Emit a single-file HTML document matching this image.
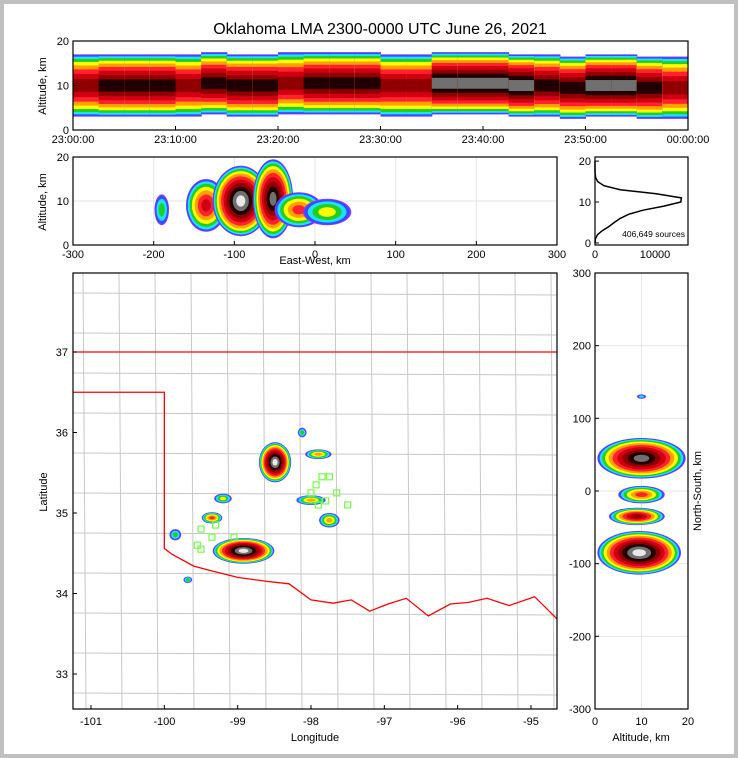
<!DOCTYPE html>
<html><head><meta charset="utf-8"><style>
body{margin:0;background:#c0c0c0;}
#wrap{position:absolute;left:4px;top:4px;width:730px;height:750px;background:#fff;}
svg{position:absolute;left:0;top:0;font-family:"Liberation Sans",sans-serif;}
</style></head><body>
<div id="wrap"></div>
<svg id="s" width="738" height="758"></svg>
<script>
const timeLabels=["23:00:00","23:10:00","23:20:00","23:30:00","23:40:00","23:50:00","00:00:00"];
const timeBinsMin=[0,2.5,5,7.5,10,12.5,15,17.5,20,22.5,25,27.5,30,32.5,35,37.5,40,42.5,45,47.5,50,52.5,55,57.5];
const timeBinCore=[8,9,9,9,8,9,9,9,8,9,9,9,8,8,10,10,10,10,9,9,10,10,9,8];
const timeBinAlt=[10,10,10,10,10,10.5,10,10,10.5,10.5,10.5,10.5,10,10,10.5,10.5,10.5,10,10,9.5,10,10,9.5,9.5];
const ewCellsKm=[-190,-135,-92,-52,-20,15];
const ewCellsAlt=[8,9,10,10.5,8,7.5];
const ewCellsLevel=[3,7,11,10,6,4];
const ewCellsW=[9,25,35,25,30,30];
const ewCellsH=[3.5,6,8,9,4,3];
const histAlt=[0,1,2,3,4,5,6,7,8,9,10,11,12,13,14,15,16,17,18,19,20];
const histCount=[0,60,400,1200,2300,3200,4200,5600,8000,11500,14300,14400,10200,4200,1500,450,100,20,5,0,0];
const mapCellLon=[-98.49,-98.92,-99.35,-99.2,-97.75,-98.0,-99.85,-99.68,-98.12,-97.9];
const mapCellLat=[35.63,34.53,34.94,35.18,34.91,35.16,34.73,34.17,36.0,35.73];
const mapCellLevel=[11,11,6,4,5,5,3,3,3,5];
const mapCellRx=[0.22,0.42,0.14,0.12,0.14,0.2,0.08,0.06,0.06,0.18];
const mapCellRy=[0.25,0.16,0.07,0.06,0.09,0.06,0.07,0.04,0.06,0.06];
const nsCellKm=[45,-5,-35,-85,130];
const nsCellAlt=[10,10,9,9.5,10];
const nsCellRx=[9.5,5,6,9,1];
const nsCellRy=[28,12,12,30,3];
const nsCellLevel=[10,6,8,11,2];
const stationLon=[-97.85,-97.75,-97.93,-98.0,-97.9,-97.65,-97.8,-97.5,-99.5,-99.35,-99.5,-99.55,-99.3,-99.05];
const stationLat=[35.45,35.45,35.35,35.25,35.1,35.25,35.15,35.1,34.8,34.7,34.55,34.6,34.85,34.7];
const okBorderLon=[-100,-99.9,-99.6,-99.35,-99.0,-98.6,-98.3,-98.0,-97.7,-97.45,-97.2,-96.95,-96.7,-96.4,-96.1,-95.85,-95.6,-95.3,-94.95,-94.64];
const okBorderLat=[34.56,34.49,34.34,34.28,34.2,34.15,34.12,33.92,33.88,33.92,33.78,33.87,33.94,33.72,33.87,33.89,33.94,33.85,33.96,33.68];

const NS="http://www.w3.org/2000/svg";const S=document.getElementById('s');
function el(t,a,p){const e=document.createElementNS(NS,t);for(const k in a)e.setAttribute(k,a[k]);(p||S).appendChild(e);return e;}
function txt(x,y,s,sz,anc,p,rot){const e=el('text',{x:x,y:y,'font-size':sz,'text-anchor':anc||'middle',fill:'#000'},p);if(rot)e.setAttribute('transform','rotate(-90 '+x+' '+y+')');e.textContent=s;return e;}
const COL=['#9a30ff','#3050ff','#20e0ff','#20d020','#ffff00','#ffa000','#ff2030','#d00010','#900000','#200000','#707070','#e8e8e8'];
function frac(i,lev){return 1-Math.pow(i/(lev+1.2),1.7);}
function blob(cx,cy,rx,ry,lev,p){for(let i=0;i<=lev;i++){const f=frac(i,lev);el('ellipse',{cx:cx,cy:cy,rx:rx*f,ry:ry*f,fill:COL[i]},p);}}
function axesBox(x,y,w,h,name){el('rect',{x:x,y:y,width:w,height:h,fill:'none',stroke:'#000','stroke-width':1.2});}
function grid(x1,y1,x2,y2){el('line',{x1:x1,y1:y1,x2:x2,y2:y2,stroke:'#e6e6e6','stroke-width':1});}

txt(380,34,"Oklahoma LMA 2300-0000 UTC June 26, 2021",16);

const p1={x:73,y:41,w:615,h:89};
const tx=m=>p1.x+m/60*p1.w, ay1=a=>p1.y+p1.h-a/20*p1.h;
const g1=el('g',{});
for(let i=0;i<timeBinsMin.length;i++){const x0=tx(timeBinsMin[i]),w=tx(timeBinsMin[i]+2.5)-x0+0.5;const lev=timeBinCore[i];const c=timeBinAlt[i];
 for(let k=0;k<=lev;k++){const hh=7*frac(k,lev);el('rect',{x:x0,y:ay1(c+hh),width:w,height:ay1(c-hh)-ay1(c+hh),fill:COL[k]},g1);}}
axesBox(p1.x,p1.y,p1.w,p1.h,'time-height-axes');
timeLabels.forEach((l,i)=>{const x=tx(i*10);el('line',{x1:x,y1:p1.y+p1.h,x2:x,y2:p1.y+p1.h-4,stroke:'#000'});txt(x,p1.y+p1.h+13,l,11);});
[0,10,20].forEach(v=>{txt(p1.x-4,ay1(v)+4,v,11,'end');el('line',{x1:p1.x,y1:ay1(v),x2:p1.x+4,y2:ay1(v),stroke:'#000'});});
txt(46,86,"Altitude, km",11,'middle',null,true);

const p2={x:73,y:157,w:484,h:88};
const ex=k=>p2.x+(k+300)/600*p2.w, ay2=a=>p2.y+p2.h-a/20*p2.h;
[-200,-100,0,100,200].forEach(v=>grid(ex(v),p2.y,ex(v),p2.y+p2.h));grid(p2.x,ay2(10),p2.x+p2.w,ay2(10));
const g2=el('g',{});
for(let i=0;i<ewCellsKm.length;i++)blob(ex(ewCellsKm[i]),ay2(ewCellsAlt[i]),ewCellsW[i]/600*p2.w,ewCellsH[i]/20*p2.h,ewCellsLevel[i],g2);
axesBox(p2.x,p2.y,p2.w,p2.h,'ew-altitude-axes');
[-300,-200,-100,0,100,200,300].forEach(v=>{txt(ex(v),p2.y+p2.h+13,v,11);el('line',{x1:ex(v),y1:p2.y+p2.h,x2:ex(v),y2:p2.y+p2.h-4,stroke:'#000'});});
[0,10,20].forEach(v=>txt(p2.x-4,ay2(v)+4,v,11,'end'));
txt(46,202,"Altitude, km",11,'middle',null,true);
txt(315,264,"East-West, km",11);

const p3={x:595,y:157,w:93,h:88};
const hx=c=>p3.x+c/15500*p3.w, hy=a=>p3.y+p3.h-(a+0.5)/21.5*p3.h;
let d='';histAlt.forEach((a,i)=>{d+=(i?'L':'M')+hx(histCount[i]).toFixed(1)+' '+hy(a).toFixed(1);});
el('path',{d:d,fill:'none',stroke:'#000','stroke-width':1.5});
axesBox(p3.x,p3.y,p3.w,p3.h,'histogram-axes');
[0,10,20].forEach(v=>{txt(p3.x-4,hy(v)+4,v,11,'end');el('line',{x1:p3.x,y1:hy(v),x2:p3.x+4,y2:hy(v),stroke:'#000'});});
[0,10000].forEach(v=>txt(hx(v),p3.y+p3.h+13,v,11));
txt(685,237,"406,649 sources",8.5,'end');

const pm={x:73,y:273,w:484,h:436};
const mx=l=>91+(l+101)*73.33, my=a=>352+(37-a)*80.5;
const gc=el('g',{stroke:'#c8c8c8','stroke-width':1,fill:'none'});
for(let x=pm.x+10;x<pm.x+pm.w;x+=36)el('line',{x1:x,y1:pm.y,x2:x+3,y2:pm.y+pm.h},gc);
for(let y=pm.y+20;y<pm.y+pm.h;y+=40)el('line',{x1:pm.x,y1:y,x2:pm.x+pm.w,y2:y+2},gc);
const gm=el('g',{});
for(let i=0;i<mapCellLon.length;i++)blob(mx(mapCellLon[i]),my(mapCellLat[i]),mapCellRx[i]*73.33,mapCellRy[i]*80.5,mapCellLevel[i],gm);
let bd='M'+pm.x+' '+my(37)+'L'+(pm.x+pm.w)+' '+my(37)+'M'+pm.x+' '+my(36.5)+'L'+mx(-100)+' '+my(36.5);
okBorderLon.forEach((l,i)=>{bd+='L'+mx(l).toFixed(1)+' '+my(okBorderLat[i]).toFixed(1);});
el('path',{d:bd,fill:'none',stroke:'#ff0000','stroke-width':1.3});
stationLon.forEach((l,i)=>{const r=el('rect',{x:mx(l)-3,y:my(stationLat[i])-3,width:6,height:6,fill:'none',stroke:'#70ff40','stroke-width':1.2});});
axesBox(pm.x,pm.y,pm.w,pm.h,'map-axes');
[-101,-100,-99,-98,-97,-96,-95].forEach(v=>{txt(mx(v),pm.y+pm.h+16,v,11);el('line',{x1:mx(v),y1:pm.y+pm.h,x2:mx(v),y2:pm.y+pm.h-4,stroke:'#000'});});
[33,34,35,36,37].forEach(v=>{txt(pm.x-5,my(v)+4,v,11,'end');el('line',{x1:pm.x,y1:my(v),x2:pm.x+4,y2:my(v),stroke:'#000'});});
txt(315,741,"Longitude",11);
txt(47,492,"Latitude",11,'middle',null,true);

const p4={x:595,y:273,w:93,h:436};
const nx=a=>p4.x+a/20*p4.w, ny=k=>p4.y+p4.h-(k+300)/600*p4.h;
[-200,-100,0,100,200].forEach(v=>grid(p4.x,ny(v),p4.x+p4.w,ny(v)));grid(nx(10),p4.y,nx(10),p4.y+p4.h);
const g4=el('g',{});
for(let i=0;i<nsCellKm.length;i++)blob(nx(nsCellAlt[i]),ny(nsCellKm[i]),nsCellRx[i]/20*p4.w,nsCellRy[i]/600*p4.h,nsCellLevel[i],g4);
axesBox(p4.x,p4.y,p4.w,p4.h,'ns-altitude-axes');
[-300,-200,-100,0,100,200,300].forEach(v=>{txt(p4.x-4,ny(v)+4,v,11,'end');el('line',{x1:p4.x,y1:ny(v),x2:p4.x+4,y2:ny(v),stroke:'#000'});});
[0,10,20].forEach(v=>txt(nx(v),p4.y+p4.h+16,v,11));
txt(641,741,"Altitude, km",11);
txt(701,491,"North-South, km",11,'middle',null,true);
</script></body></html>
